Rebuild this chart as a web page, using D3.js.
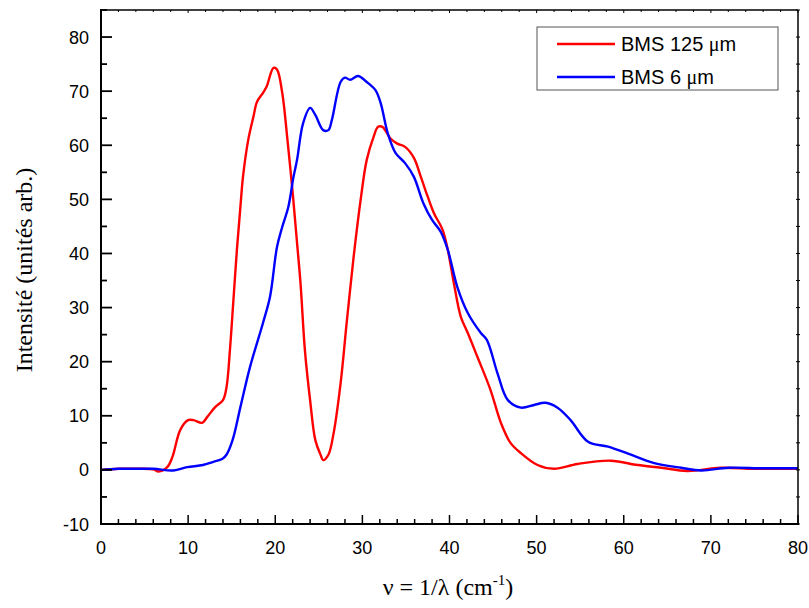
<!DOCTYPE html>
<html><head><meta charset="utf-8">
<script src="https://cdn.jsdelivr.net/npm/d3@7"></script>
<style>body{margin:0;background:#fff}svg{display:block}</style>
</head><body>
<svg id="c" width="809" height="608"></svg>
<script>
const seriesNames = ["BMS 125 ", "BMS 6 "];
const seriesUnit = "\u03bcm";
const seriesColors = ["#ff0000", "#0000ff"];
const redX = [0,2,4,6,6.6,7.6,8.2,9.1,10.0,10.6,11.6,12.2,13.1,14.0,14.4,14.8,15.2,15.6,16.0,16.3,16.9,17.5,17.9,18.6,19.0,19.8,20.2,20.8,21.4,22.0,22.5,22.9,23.4,24.0,24.6,25.2,25.5,26.1,26.7,27.5,28.2,29.0,29.8,30.5,31.3,31.8,32.3,33.2,34.0,34.9,35.9,36.7,37.5,38.2,39.2,39.8,40.5,41.3,42.1,43.2,44.7,45.9,47.0,48.2,50.1,52.0,54.7,58.5,61.6,64.3,67.3,71.1,75,80];
const redY = [0,0.2,0.2,0.1,-0.3,0.5,2.4,7.4,9.2,9.2,8.7,9.8,11.6,12.9,15.2,22.2,31.4,40.7,48.6,54.2,61,65.3,68,69.7,70.8,74.3,74,69.7,61,51.2,42,34.5,22.2,12.9,5.5,2.8,1.8,2.8,6.8,16,27.2,39.4,49.9,57.3,61.6,63.4,63.4,61.3,60.3,59.7,57.7,54.2,50.5,47.5,44.4,40.7,34.5,28.3,25.3,20.9,14.8,8.7,5,3.1,0.9,0.2,1.1,1.7,0.9,0.4,-0.2,0.4,0.2,0.2];
const blueX = [0,2,4,6,8.3,9.9,11.7,12.9,13.9,14.4,15.1,16.0,17.1,18.6,19.4,20.2,20.8,21.5,22.1,22.5,23.2,24.0,24.6,25.5,26.1,26.5,27.5,28.0,28.6,29.5,30.5,31.5,32.1,32.9,33.8,34.9,35.9,37.0,38.0,39.0,39.8,40.9,42.1,43.6,44.3,45.5,46.7,48.2,49.7,51.0,52.4,53.9,55.9,58.2,60.5,63.4,66.6,68.9,72.0,76,80];
const blueY = [0,0.2,0.2,0.2,-0.1,0.5,0.9,1.5,2,2.8,5.5,11.6,19,27.2,32,41.2,44.9,48.6,54.2,57.3,64.1,66.9,65.6,62.8,62.8,64.7,71.7,72.5,72.1,72.8,71.7,70.2,67.8,62.3,58.6,56.7,54.2,49.3,46.2,44,40.7,33.8,29,25.3,24,17.9,12.9,11.5,12,12.4,11.5,9.2,5.2,4.3,3,1.3,0.4,-0.1,0.4,0.3,0.3];
const xTicks = [0,10,20,30,40,50,60,70,80];
const yTicks = [-10,0,10,20,30,40,50,60,70,80];

const svg = d3.select("#c");
const L=101, R=798, T=10, B=524;
const x = d3.scaleLinear().domain([0,80]).range([L,R]);
const y = d3.scaleLinear().domain([-10,85]).range([B,T]);

const line = d3.line().x(d=>x(d[0])).y(d=>y(d[1])).curve(d3.curveCatmullRom.alpha(0.5));
const series = [d3.zip(redX, redY), d3.zip(blueX, blueY)];
svg.append("defs").append("clipPath").attr("id","clp").append("rect").attr("x",L).attr("y",T).attr("width",R-L).attr("height",B-T);
series.forEach((s,i)=>{
  svg.append("path").attr("d",line(s)).attr("fill","none").attr("stroke",seriesColors[i])
    .attr("stroke-width",2.4).attr("stroke-linejoin","round").attr("clip-path","url(#clp)");
});

const g = svg.append("g").attr("stroke","#000").attr("fill","none");
g.append("line").attr("x1",L).attr("x2",R).attr("y1",T).attr("y2",T).attr("stroke-width",1.5);
g.append("line").attr("x1",R).attr("x2",R).attr("y1",T).attr("y2",B).attr("stroke-width",1.5);
g.append("line").attr("x1",L).attr("x2",R+1).attr("y1",B).attr("y2",B).attr("stroke-width",2);
g.append("line").attr("x1",L).attr("x2",L).attr("y1",T-1).attr("y2",B+1).attr("stroke-width",2);

d3.range(0,81,2).forEach(v=>{
  const major = v%10===0;
  g.append("line").attr("x1",x(v)).attr("x2",x(v)).attr("y1",B).attr("y2",B-(major?9:5)).attr("stroke-width",1.5);
  g.append("line").attr("x1",x(v)).attr("x2",x(v)).attr("y1",T).attr("y2",T+(major?3:2)).attr("stroke-width",1);
});
d3.range(-10,86,5).forEach(v=>{
  const major = v%10===0;
  g.append("line").attr("x1",L).attr("x2",L+(major?11:6)).attr("y1",y(v)).attr("y2",y(v)).attr("stroke-width",1.8);
  g.append("line").attr("x1",R-2).attr("x2",R+2).attr("y1",y(v)).attr("y2",y(v)).attr("stroke-width",1);
});

const tl = svg.append("g").attr("font-family","Liberation Sans, Arial, sans-serif").attr("font-size",18).attr("fill","#000");
xTicks.forEach(v=>tl.append("text").attr("x",x(v)).attr("y",554).attr("text-anchor","middle").text(v));
yTicks.forEach(v=>tl.append("text").attr("x",89).attr("y",y(v)+6.5).attr("text-anchor","end").text(v));

const tf = "Liberation Serif, Times New Roman, serif";
const xl = svg.append("text").attr("x",448).attr("y",595).attr("text-anchor","middle")
  .attr("font-family",tf).attr("font-size",24).attr("fill","#000");
xl.append("tspan").text("\u03bd = 1/\u03bb (cm");
xl.append("tspan").attr("font-size",15).attr("dy",-10).text("-1");
xl.append("tspan").attr("dy",10).text(")");
svg.append("text").attr("transform","translate(32,270) rotate(-90)").attr("text-anchor","middle")
  .attr("font-family",tf).attr("font-size",24).attr("fill","#000").text("Intensit\u00e9 (unit\u00e9s arb.)");

const lg = svg.append("g");
lg.append("rect").attr("x",537).attr("y",27).attr("width",241).attr("height",63).attr("fill","#fff").attr("stroke","#555").attr("stroke-width",1);
seriesNames.forEach((n,i)=>{
  const yy = 44 + i*33;
  lg.append("line").attr("x1",557).attr("x2",615).attr("y1",yy).attr("y2",yy).attr("stroke",seriesColors[i]).attr("stroke-width",2.6);
  const t = lg.append("text").attr("x",621).attr("y",yy+7).attr("font-family","Liberation Sans, Arial, sans-serif").attr("font-size",20).attr("fill","#000");
  t.append("tspan").text(n);
  t.append("tspan").attr("font-family",tf).attr("font-size",20).text(seriesUnit.charAt(0));
  t.append("tspan").text(seriesUnit.slice(1));
});
</script>
</body></html>
